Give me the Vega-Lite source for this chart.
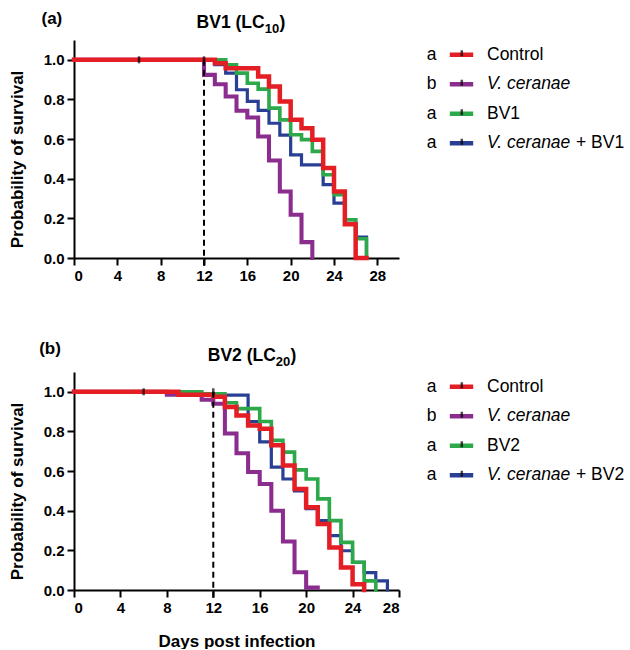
{
  "$schema": "https://vega.github.io/schema/vega-lite/v6.json",
  "padding": {"left": 8, "top": 10, "right": 0, "bottom": 0},
  "background": "white",
  "config": {
    "view": {"stroke": null},
    "font": "Liberation Sans",
    "axis": {
      "domainColor": "black", "domainWidth": 2, "tickColor": "black", "tickWidth": 2, "tickSize": 7,
      "labelFont": "Liberation Sans", "labelFontSize": 15, "labelFontWeight": "bold", "labelColor": "black", "labelPadding": 3,
      "titleFont": "Liberation Sans", "titleFontSize": 17, "titleFontWeight": "bold", "titleColor": "black", "grid": false
    }
  },
  "datasets": {
    "a": [
      {"grp": "vc", "day": 0, "surv": 1}, {"grp": "vc", "day": 12, "surv": 0.924}, {"grp": "vc", "day": 13, "surv": 0.877}, {"grp": "vc", "day": 14, "surv": 0.815}, {"grp": "vc", "day": 15, "surv": 0.743}, {"grp": "vc", "day": 16, "surv": 0.709}, {"grp": "vc", "day": 17, "surv": 0.613}, {"grp": "vc", "day": 18, "surv": 0.492}, {"grp": "vc", "day": 19, "surv": 0.336}, {"grp": "vc", "day": 20, "surv": 0.218}, {"grp": "vc", "day": 21, "surv": 0.08}, {"grp": "vc", "day": 22, "surv": 0},
      {"grp": "vcbv", "day": 0, "surv": 1}, {"grp": "vcbv", "day": 13, "surv": 0.975}, {"grp": "vcbv", "day": 14, "surv": 0.933}, {"grp": "vcbv", "day": 15, "surv": 0.849}, {"grp": "vcbv", "day": 16, "surv": 0.79}, {"grp": "vcbv", "day": 17, "surv": 0.745}, {"grp": "vcbv", "day": 18, "surv": 0.68}, {"grp": "vcbv", "day": 19, "surv": 0.62}, {"grp": "vcbv", "day": 20, "surv": 0.52}, {"grp": "vcbv", "day": 21, "surv": 0.47}, {"grp": "vcbv", "day": 23, "surv": 0.37}, {"grp": "vcbv", "day": 24, "surv": 0.277}, {"grp": "vcbv", "day": 25, "surv": 0.193}, {"grp": "vcbv", "day": 26, "surv": 0.106}, {"grp": "vcbv", "day": 27, "surv": 0},
      {"grp": "bv", "day": 0, "surv": 1}, {"grp": "bv", "day": 14, "surv": 0.975}, {"grp": "bv", "day": 15, "surv": 0.933}, {"grp": "bv", "day": 16, "surv": 0.882}, {"grp": "bv", "day": 17, "surv": 0.852}, {"grp": "bv", "day": 18, "surv": 0.756}, {"grp": "bv", "day": 19, "surv": 0.697}, {"grp": "bv", "day": 20, "surv": 0.622}, {"grp": "bv", "day": 21, "surv": 0.597}, {"grp": "bv", "day": 22, "surv": 0.538}, {"grp": "bv", "day": 23, "surv": 0.42}, {"grp": "bv", "day": 24, "surv": 0.32}, {"grp": "bv", "day": 25, "surv": 0.193}, {"grp": "bv", "day": 26, "surv": 0.097}, {"grp": "bv", "day": 27, "surv": 0},
      {"grp": "ctrl", "day": 0, "surv": 1}, {"grp": "ctrl", "day": 13, "surv": 0.983}, {"grp": "ctrl", "day": 14, "surv": 0.958}, {"grp": "ctrl", "day": 17, "surv": 0.916}, {"grp": "ctrl", "day": 18, "surv": 0.866}, {"grp": "ctrl", "day": 19, "surv": 0.79}, {"grp": "ctrl", "day": 20, "surv": 0.697}, {"grp": "ctrl", "day": 21, "surv": 0.655}, {"grp": "ctrl", "day": 22, "surv": 0.597}, {"grp": "ctrl", "day": 23, "surv": 0.454}, {"grp": "ctrl", "day": 24, "surv": 0.336}, {"grp": "ctrl", "day": 25, "surv": 0.17}, {"grp": "ctrl", "day": 26, "surv": 0}, {"grp": "ctrl", "day": 27, "surv": 0}
    ],
    "b": [
      {"grp": "vc", "day": 0, "surv": 1}, {"grp": "vc", "day": 8, "surv": 0.985}, {"grp": "vc", "day": 11, "surv": 0.96}, {"grp": "vc", "day": 12, "surv": 0.94}, {"grp": "vc", "day": 13, "surv": 0.79}, {"grp": "vc", "day": 14, "surv": 0.69}, {"grp": "vc", "day": 15, "surv": 0.595}, {"grp": "vc", "day": 16, "surv": 0.535}, {"grp": "vc", "day": 17, "surv": 0.4}, {"grp": "vc", "day": 18, "surv": 0.245}, {"grp": "vc", "day": 19, "surv": 0.09}, {"grp": "vc", "day": 20, "surv": 0.012}, {"grp": "vc", "day": 21, "surv": 0.012},
      {"grp": "vcbv", "day": 0, "surv": 1}, {"grp": "vcbv", "day": 11, "surv": 0.983}, {"grp": "vcbv", "day": 15, "surv": 0.85}, {"grp": "vcbv", "day": 16, "surv": 0.747}, {"grp": "vcbv", "day": 17, "surv": 0.62}, {"grp": "vcbv", "day": 18, "surv": 0.56}, {"grp": "vcbv", "day": 19, "surv": 0.5}, {"grp": "vcbv", "day": 20, "surv": 0.41}, {"grp": "vcbv", "day": 21, "surv": 0.35}, {"grp": "vcbv", "day": 22, "surv": 0.274}, {"grp": "vcbv", "day": 23, "surv": 0.198}, {"grp": "vcbv", "day": 24, "surv": 0.139}, {"grp": "vcbv", "day": 25, "surv": 0.088}, {"grp": "vcbv", "day": 26, "surv": 0.046}, {"grp": "vcbv", "day": 27, "surv": 0},
      {"grp": "bv", "day": 0, "surv": 1}, {"grp": "bv", "day": 11, "surv": 0.99}, {"grp": "bv", "day": 13, "surv": 0.945}, {"grp": "bv", "day": 14, "surv": 0.915}, {"grp": "bv", "day": 16, "surv": 0.85}, {"grp": "bv", "day": 17, "surv": 0.755}, {"grp": "bv", "day": 18, "surv": 0.696}, {"grp": "bv", "day": 19, "surv": 0.606}, {"grp": "bv", "day": 20, "surv": 0.56}, {"grp": "bv", "day": 21, "surv": 0.46}, {"grp": "bv", "day": 22, "surv": 0.35}, {"grp": "bv", "day": 23, "surv": 0.24}, {"grp": "bv", "day": 24, "surv": 0.14}, {"grp": "bv", "day": 25, "surv": 0.046}, {"grp": "bv", "day": 26, "surv": 0},
      {"grp": "ctrl", "day": 0, "surv": 1}, {"grp": "ctrl", "day": 9, "surv": 0.985}, {"grp": "ctrl", "day": 12, "surv": 0.975}, {"grp": "ctrl", "day": 13, "surv": 0.924}, {"grp": "ctrl", "day": 14, "surv": 0.88}, {"grp": "ctrl", "day": 15, "surv": 0.83}, {"grp": "ctrl", "day": 16, "surv": 0.814}, {"grp": "ctrl", "day": 17, "surv": 0.73}, {"grp": "ctrl", "day": 18, "surv": 0.628}, {"grp": "ctrl", "day": 19, "surv": 0.51}, {"grp": "ctrl", "day": 20, "surv": 0.417}, {"grp": "ctrl", "day": 21, "surv": 0.333}, {"grp": "ctrl", "day": 22, "surv": 0.214}, {"grp": "ctrl", "day": 23, "surv": 0.113}, {"grp": "ctrl", "day": 24, "surv": 0.029}, {"grp": "ctrl", "day": 25, "surv": 0}
    ],
    "cens": [{"day": 6, "surv": 1}, {"day": 12, "surv": 1}],
    "tA": [{"tag": "(a)", "main": "BV1 (LC", "sub": "10", "close": ")"}],
    "tB": [{"tag": "(b)", "main": "BV2 (LC", "sub": "20", "close": ")"}],
    "legA": [
      {"grp": "ctrl", "letter": "a", "label": "Control", "ital": 0, "suffix": ""},
      {"grp": "vc", "letter": "b", "label": "V. ceranae", "ital": 1, "suffix": ""},
      {"grp": "bv", "letter": "a", "label": "BV1", "ital": 0, "suffix": ""},
      {"grp": "vcbv", "letter": "a", "label": "V. ceranae", "ital": 1, "suffix": "+ BV1"}
    ],
    "legB": [
      {"grp": "ctrl", "letter": "a", "label": "Control", "ital": 0, "suffix": ""},
      {"grp": "vc", "letter": "b", "label": "V. ceranae", "ital": 1, "suffix": ""},
      {"grp": "bv", "letter": "a", "label": "BV2", "ital": 0, "suffix": ""},
      {"grp": "vcbv", "letter": "a", "label": "V. ceranae", "ital": 1, "suffix": "+ BV2"}
    ]
  },
  "columns": 2,
  "bounds": "flush",
  "spacing": {"row": 114, "column": 20},
  "resolve": {"scale": {"x": "independent", "y": "independent"}},
  "concat": [
    {
      "width": 325, "height": 218,
      "layer": [
        {
          "data": {"name": "a"},
          "mark": {"type": "line", "interpolate": "step-after", "strokeCap": "square", "strokeJoin": "miter"},
          "encoding": {
            "x": {"field": "day", "type": "quantitative", "scale": {"domain": [0, 30], "nice": false}, "axis": {"values": [0, 4, 8, 12, 16, 20, 24, 28], "title": null}},
            "y": {"field": "surv", "type": "quantitative", "scale": {"domain": [0, 1.1], "nice": false}, "axis": {"values": [0, 0.2, 0.4, 0.6, 0.8, 1], "format": ".1f", "title": "Probability of survival", "titlePadding": 17, "titleY": 119}},
            "color": {"field": "grp", "type": "nominal", "sort": null, "scale": {"domain": ["ctrl", "vc", "bv", "vcbv"], "range": ["#E31E24", "#8B2D8E", "#2DA84A", "#283F94"]}, "legend": null},
            "strokeWidth": {"field": "grp", "type": "nominal", "scale": {"domain": ["ctrl", "vc", "bv", "vcbv"], "range": [4.5, 3.2, 3.2, 3.2]}, "legend": null}
          }
        },
        {
          "mark": {"type": "rule", "strokeDash": [6, 4], "strokeWidth": 2, "color": "black"},
          "data": {"name": "cens"},
          "transform": [{"filter": "datum.day == 12"}],
          "encoding": {"x": {"field": "day", "type": "quantitative"}, "y": {"field": "surv", "type": "quantitative"}, "y2": {"datum": -0.05}}
        },
        {
          "data": {"name": "cens"},
          "mark": {"type": "tick", "orient": "vertical", "color": "black", "size": 7, "thickness": 2.5},
          "encoding": {"x": {"field": "day", "type": "quantitative"}, "y": {"field": "surv", "type": "quantitative"}}
        },
        {
          "data": {"name": "tA"},
          "mark": {"type": "text", "fontSize": 17, "fontWeight": "bold", "align": "left", "baseline": "alphabetic", "color": "black"},
          "encoding": {"x": {"datum": -3.0}, "y": {"datum": 1.18}, "text": {"field": "tag"}}
        },
        {
          "data": {"name": "tA"},
          "mark": {"type": "text", "fontSize": 17.5, "fontWeight": "bold", "align": "right", "baseline": "alphabetic", "color": "black"},
          "encoding": {"x": {"datum": 17.6}, "y": {"datum": 1.16}, "text": {"field": "main"}}
        },
        {
          "data": {"name": "tA"},
          "mark": {"type": "text", "fontSize": 13, "fontWeight": "bold", "align": "left", "baseline": "alphabetic", "dy": 5, "color": "black"},
          "encoding": {"x": {"datum": 17.6}, "y": {"datum": 1.16}, "text": {"field": "sub"}}
        },
        {
          "data": {"name": "tA"},
          "mark": {"type": "text", "fontSize": 17.5, "fontWeight": "bold", "align": "left", "baseline": "alphabetic", "color": "black"},
          "encoding": {"x": {"datum": 18.98}, "y": {"datum": 1.16}, "text": {"field": "close"}}
        }
      ]
    },
    {
      "width": 200, "height": 118,
      "data": {"name": "legA"},
      "encoding": {"y": {"field": "grp", "type": "nominal", "scale": {"type": "point", "domain": ["ctrl", "vc", "bv", "vcbv"], "padding": 0.5}, "axis": null}},
      "layer": [
        {"mark": {"type": "text", "fontSize": 17.5, "align": "center", "baseline": "middle", "color": "black"},
         "encoding": {"x": {"datum": 0.625, "type": "quantitative", "scale": {"domain": [0, 10]}, "axis": null}, "text": {"field": "letter"}}},
        {"mark": {"type": "rule", "strokeWidth": 4.5, "strokeCap": "butt"},
         "encoding": {"x": {"datum": 1.54, "type": "quantitative", "axis": null}, "x2": {"datum": 2.71},
           "color": {"field": "grp", "type": "nominal", "scale": {"domain": ["ctrl", "vc", "bv", "vcbv"], "range": ["#E31E24", "#8B2D8E", "#2DA84A", "#283F94"]}, "legend": null}}},
        {"mark": {"type": "tick", "orient": "vertical", "color": "black", "size": 6, "thickness": 2.5, "yOffset": -1.5},
         "encoding": {"x": {"datum": 2.14, "type": "quantitative", "axis": null}}},
        {"transform": [{"filter": "datum.ital == 0"}],
         "mark": {"type": "text", "fontSize": 17.5, "align": "left", "baseline": "middle", "color": "black"},
         "encoding": {"x": {"datum": 3.4, "type": "quantitative", "axis": null}, "text": {"field": "label"}}},
        {"transform": [{"filter": "datum.ital == 1"}],
         "mark": {"type": "text", "fontSize": 17.5, "fontStyle": "italic", "align": "left", "baseline": "middle", "color": "black"},
         "encoding": {"x": {"datum": 3.4, "type": "quantitative", "axis": null}, "text": {"field": "label"}}},
        {"transform": [{"filter": "datum.suffix != ''"}],
         "mark": {"type": "text", "fontSize": 17.5, "align": "left", "baseline": "middle", "color": "black"},
         "encoding": {"x": {"datum": 7.85, "type": "quantitative", "axis": null}, "text": {"field": "suffix"}}}
      ]
    },
    {
      "width": 325, "height": 218,
      "layer": [
        {
          "data": {"name": "b"},
          "mark": {"type": "line", "interpolate": "step-after", "strokeCap": "square", "strokeJoin": "miter"},
          "encoding": {
            "x": {"field": "day", "type": "quantitative", "scale": {"domain": [0, 28], "nice": false}, "axis": {"values": [0, 4, 8, 12, 16, 20, 24, 28], "title": "Days post infection", "titlePadding": 18}},
            "y": {"field": "surv", "type": "quantitative", "scale": {"domain": [0, 1.1], "nice": false}, "axis": {"values": [0, 0.2, 0.4, 0.6, 0.8, 1], "format": ".1f", "title": "Probability of survival", "titlePadding": 17, "titleY": 119}},
            "color": {"field": "grp", "type": "nominal", "sort": null, "scale": {"domain": ["ctrl", "vc", "bv", "vcbv"], "range": ["#E31E24", "#8B2D8E", "#2DA84A", "#283F94"]}, "legend": null},
            "strokeWidth": {"field": "grp", "type": "nominal", "scale": {"domain": ["ctrl", "vc", "bv", "vcbv"], "range": [4.5, 3.2, 3.2, 3.2]}, "legend": null}
          }
        },
        {
          "mark": {"type": "rule", "strokeDash": [6, 4], "strokeWidth": 2, "color": "black"},
          "data": {"name": "cens"},
          "transform": [{"filter": "datum.day == 12"}],
          "encoding": {"x": {"field": "day", "type": "quantitative"}, "y": {"field": "surv", "type": "quantitative"}, "y2": {"datum": -0.05}}
        },
        {
          "data": {"name": "cens"},
          "mark": {"type": "tick", "orient": "vertical", "color": "black", "size": 7, "thickness": 2.5},
          "encoding": {"x": {"field": "day", "type": "quantitative"}, "y": {"field": "surv", "type": "quantitative"}}
        },
        {
          "data": {"name": "tB"},
          "mark": {"type": "text", "fontSize": 17, "fontWeight": "bold", "align": "left", "baseline": "alphabetic", "color": "black"},
          "encoding": {"x": {"datum": -3.0}, "y": {"datum": 1.19}, "text": {"field": "tag"}}
        },
        {
          "data": {"name": "tB"},
          "mark": {"type": "text", "fontSize": 17.5, "fontWeight": "bold", "align": "right", "baseline": "alphabetic", "color": "black"},
          "encoding": {"x": {"datum": 17.39}, "y": {"datum": 1.155}, "text": {"field": "main"}}
        },
        {
          "data": {"name": "tB"},
          "mark": {"type": "text", "fontSize": 13, "fontWeight": "bold", "align": "left", "baseline": "alphabetic", "dy": 5, "color": "black"},
          "encoding": {"x": {"datum": 17.39}, "y": {"datum": 1.155}, "text": {"field": "sub"}}
        },
        {
          "data": {"name": "tB"},
          "mark": {"type": "text", "fontSize": 17.5, "fontWeight": "bold", "align": "left", "baseline": "alphabetic", "color": "black"},
          "encoding": {"x": {"datum": 18.66}, "y": {"datum": 1.155}, "text": {"field": "close"}}
        }
      ]
    },
    {
      "width": 200, "height": 118,
      "data": {"name": "legB"},
      "encoding": {"y": {"field": "grp", "type": "nominal", "scale": {"type": "point", "domain": ["ctrl", "vc", "bv", "vcbv"], "padding": 0.5}, "axis": null}},
      "layer": [
        {"mark": {"type": "text", "fontSize": 17.5, "align": "center", "baseline": "middle", "color": "black"},
         "encoding": {"x": {"datum": 0.625, "type": "quantitative", "scale": {"domain": [0, 10]}, "axis": null}, "text": {"field": "letter"}}},
        {"mark": {"type": "rule", "strokeWidth": 4.5, "strokeCap": "butt"},
         "encoding": {"x": {"datum": 1.54, "type": "quantitative", "axis": null}, "x2": {"datum": 2.71},
           "color": {"field": "grp", "type": "nominal", "scale": {"domain": ["ctrl", "vc", "bv", "vcbv"], "range": ["#E31E24", "#8B2D8E", "#2DA84A", "#283F94"]}, "legend": null}}},
        {"mark": {"type": "tick", "orient": "vertical", "color": "black", "size": 6, "thickness": 2.5, "yOffset": -1.5},
         "encoding": {"x": {"datum": 2.14, "type": "quantitative", "axis": null}}},
        {"transform": [{"filter": "datum.ital == 0"}],
         "mark": {"type": "text", "fontSize": 17.5, "align": "left", "baseline": "middle", "color": "black"},
         "encoding": {"x": {"datum": 3.4, "type": "quantitative", "axis": null}, "text": {"field": "label"}}},
        {"transform": [{"filter": "datum.ital == 1"}],
         "mark": {"type": "text", "fontSize": 17.5, "fontStyle": "italic", "align": "left", "baseline": "middle", "color": "black"},
         "encoding": {"x": {"datum": 3.4, "type": "quantitative", "axis": null}, "text": {"field": "label"}}},
        {"transform": [{"filter": "datum.suffix != ''"}],
         "mark": {"type": "text", "fontSize": 17.5, "align": "left", "baseline": "middle", "color": "black"},
         "encoding": {"x": {"datum": 7.85, "type": "quantitative", "axis": null}, "text": {"field": "suffix"}}}
      ]
    }
  ]
}
